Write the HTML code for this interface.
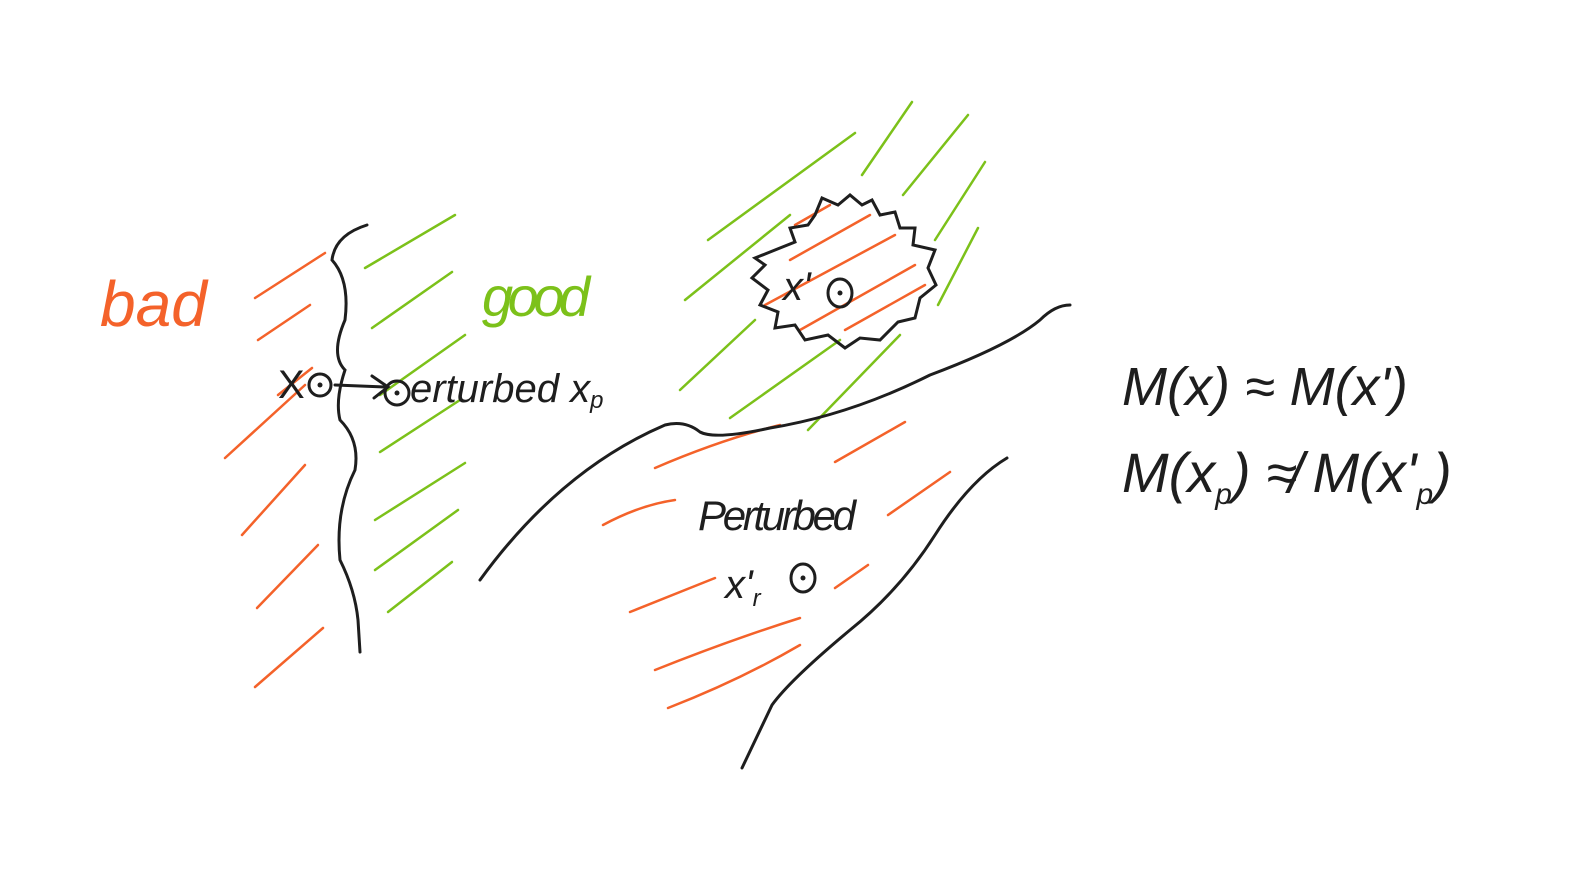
<!DOCTYPE html>
<html><head><meta charset="utf-8"><style>
html,body{margin:0;padding:0;background:#fff;}
svg{display:block}
text{font-family:"Liberation Sans",sans-serif;}
</style></head><body>
<svg width="1569" height="873" viewBox="0 0 1569 873">
<rect width="1569" height="873" fill="#fff"/>
<g stroke="#f4622a" stroke-width="2.5" stroke-linecap="round" fill="none">
<path d="M255,298 L325,253"/><path d="M258,340 L310,305"/><path d="M278,395 L312,368"/>
<path d="M225,458 L305,385"/><path d="M242,535 L305,465"/><path d="M257,608 L318,545"/>
<path d="M255,687 L323,628"/>
<path d="M655,468 Q720,440 780,425"/><path d="M835,462 L905,422"/><path d="M603,525 Q640,505 675,500"/>
<path d="M888,515 L950,472"/><path d="M630,612 L715,578"/><path d="M835,588 L868,565"/>
<path d="M655,670 Q730,640 800,618"/><path d="M668,708 Q740,680 800,645"/>
<path d="M795,225 L830,205"/><path d="M790,260 L870,215"/><path d="M765,305 L895,235"/><path d="M800,330 L915,265"/><path d="M845,330 L925,285"/>
</g>
<g stroke="#7cc11a" stroke-width="2.5" stroke-linecap="round" fill="none">
<path d="M365,268 L455,215"/><path d="M372,328 L452,272"/><path d="M380,395 L465,335"/>
<path d="M380,452 L460,400"/><path d="M375,520 L465,463"/><path d="M375,570 L458,510"/>
<path d="M388,612 L452,562"/>
<path d="M708,240 L855,133"/><path d="M685,300 L790,215"/><path d="M680,390 L755,320"/>
<path d="M730,418 L840,340"/><path d="M808,430 L900,335"/><path d="M862,175 L912,102"/>
<path d="M903,195 L968,115"/><path d="M935,240 L985,162"/><path d="M938,305 L978,228"/>
</g>
<g stroke="#1e1e1e" stroke-width="3" stroke-linecap="round" fill="none">
<path d="M367,225 Q335,235 332,260 Q350,280 345,320 Q330,355 345,370 Q335,400 340,420 Q360,440 355,470 Q335,510 340,560 Q355,590 358,620 L360,652"/>
<path d="M480,580 Q560,470 665,425 Q685,420 700,432 Q715,440 770,428 Q850,415 930,375 Q1010,345 1040,320 Q1055,305 1070,305"/>
<path d="M1007,458 Q970,480 935,535 Q900,590 850,630 Q790,680 772,705 Q760,730 742,768"/>
<path d="M815,215 L822,198 L838,205 L850,195 L862,205 L872,200 L880,215 L895,212 L900,228 L915,228 L913,245 L935,250 L928,268 L936,285 L920,298 L915,318 L898,322 L880,340 L860,338 L845,348 L828,335 L805,340 L795,325 L775,328 L778,312 L760,305 L768,290 L752,278 L765,265 L755,258 L780,248 L795,242 L790,228 L808,225 Z"/>
<path d="M335,385 L385,387 M372,376 L388,387 L374,398"/>
<circle cx="320" cy="385" r="11"/>
<circle cx="397" cy="393" r="12"/>
<ellipse cx="840" cy="293" rx="12" ry="14"/>
<ellipse cx="803" cy="578" rx="12" ry="14"/>
</g>
<g fill="#1e1e1e">
<circle cx="320" cy="385" r="2.5"/><circle cx="397" cy="393" r="2.5"/><circle cx="840" cy="293" r="2.5"/><circle cx="803" cy="578" r="2.5"/>
</g>
<text x="100" y="326" font-size="64" fill="#f4622a" font-style="italic">bad</text>
<text x="482" y="316" font-size="56" fill="#7cc11a" font-style="italic" textLength="108">good</text>
<text x="278" y="398" font-size="40" fill="#1e1e1e">X</text>
<text x="410" y="402" font-size="40" fill="#1e1e1e" font-style="italic">erturbed x<tspan font-size="24" dy="6">p</tspan></text>
<text x="783" y="300" font-size="40" fill="#1e1e1e" font-style="italic">x'</text>
<text x="698" y="530" font-size="42" fill="#1e1e1e" font-style="italic" textLength="158">Perturbed</text>
<text x="725" y="598" font-size="40" fill="#1e1e1e" font-style="italic">x'<tspan font-size="24" dy="8">r</tspan></text>
<text x="1122" y="405" font-size="54" fill="#1e1e1e" font-style="italic">M(x) ≈ M(x')</text>
<text x="1122" y="492" font-size="56" fill="#1e1e1e" font-style="italic">M(x<tspan font-size="30" dy="12">p</tspan><tspan dy="-12">) ≉  M(x'</tspan><tspan font-size="30" dy="12">p</tspan><tspan dy="-12">)</tspan></text>
</svg>
</body></html>
